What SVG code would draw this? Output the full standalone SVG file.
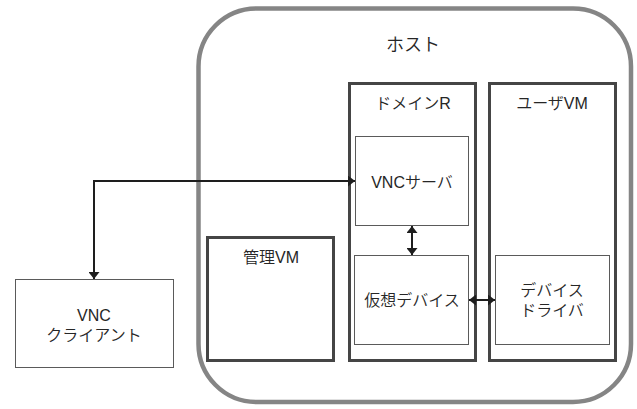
<svg xmlns="http://www.w3.org/2000/svg" width="637" height="409" viewBox="0 0 637 409">
  <style>
    text { font-family: "Liberation Sans", "Noto Sans CJK JP", sans-serif; font-size: 16px; font-weight: 350; fill: #262626; text-anchor: middle; dominant-baseline: central; }
    .host { fill: #fff; stroke: #858585; stroke-width: 4.5; }
    .vm { fill: #fff; stroke: #454545; stroke-width: 3; }
    .inner { fill: #fff; stroke: #5a5a5a; stroke-width: 1; }
    .link { fill: none; stroke: #1e1e1e; stroke-width: 2; }
  </style>
  <defs>
    <marker id="arrow" viewBox="0 0 7 11" refX="7" refY="5.5" markerWidth="3.5" markerHeight="5.5" orient="auto-start-reverse" markerUnits="strokeWidth">
      <path d="M0,0 L7,5.5 L0,11 z" fill="#1e1e1e"/>
    </marker>
  </defs>
  <rect width="637" height="409" fill="#fff"/>

  <g id="host">
    <rect class="host" x="198.5" y="8.5" width="432.5" height="393.5" rx="58" ry="58"/>
    <text x="413" y="45" style="font-size:18px">ホスト</text>
  </g>

  <g id="vnc-client">
    <rect class="inner" x="15.5" y="279.5" width="158" height="88"/>
    <text x="94" y="315">VNC</text>
    <text x="94" y="335">クライアント</text>
  </g>

  <g id="kanri-vm">
    <rect class="vm" x="207.5" y="237.5" width="126" height="123"/>
    <text x="271" y="257">管理VM</text>
  </g>

  <g id="domain-r">
    <rect class="vm" x="349.5" y="83.5" width="126" height="277"/>
    <text x="413" y="103">ドメインR</text>
  </g>

  <g id="user-vm">
    <rect class="vm" x="489.5" y="83.5" width="126" height="277"/>
    <text x="552" y="103">ユーザVM</text>
  </g>

  <g id="vnc-server">
    <rect class="inner" x="355.5" y="136.5" width="113" height="89"/>
    <text x="412" y="182">VNCサーバ</text>
  </g>

  <g id="virtual-device">
    <rect class="inner" x="354.5" y="255.5" width="114" height="89"/>
    <text x="412" y="300">仮想デバイス</text>
  </g>

  <g id="device-driver">
    <rect class="inner" x="495.5" y="255.5" width="114" height="89"/>
    <text x="552" y="290">デバイス</text>
    <text x="552" y="310">ドライバ</text>
  </g>

  <g id="connectors">
    <path class="link" d="M355,181 H94 V279" marker-start="url(#arrow)" marker-end="url(#arrow)"/>
    <path class="link" d="M412,226 V255" marker-start="url(#arrow)" marker-end="url(#arrow)"/>
    <path class="link" d="M469,300 H495" marker-start="url(#arrow)" marker-end="url(#arrow)"/>
  </g>
</svg>
